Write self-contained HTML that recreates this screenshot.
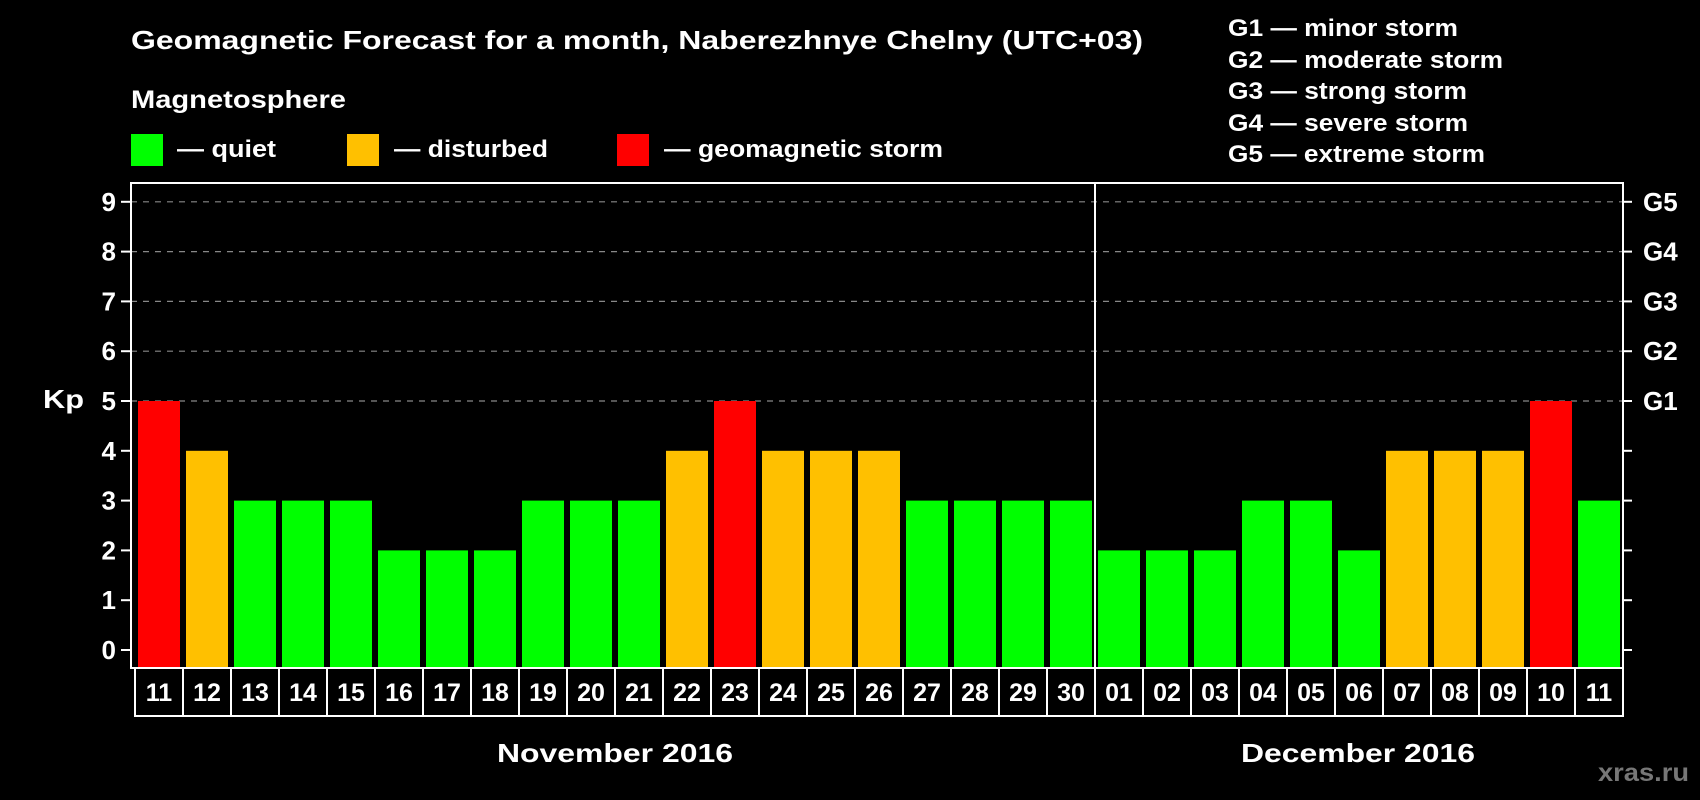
<!DOCTYPE html>
<html><head><meta charset="utf-8"><style>
html,body{margin:0;padding:0;background:#000;}
svg{display:block;font-family:"Liberation Sans",Arial,sans-serif;font-weight:bold;}
</style></head><body>
<svg id="chart" width="1700" height="800" viewBox="0 0 1700 800">
<rect x="0" y="0" width="1700" height="800" fill="#000"/>
<text x="131" y="49" fill="#fff" font-size="26" textLength="1012" lengthAdjust="spacingAndGlyphs">Geomagnetic Forecast for a month, Naberezhnye Chelny (UTC+03)</text>
<text x="131" y="108" fill="#fff" font-size="25" textLength="215" lengthAdjust="spacingAndGlyphs">Magnetosphere</text>
<g><rect x="131" y="134" width="32" height="32" fill="#00ff00"/><text x="177" y="157" fill="#fff" font-size="24" textLength="99" lengthAdjust="spacingAndGlyphs">— quiet</text></g>
<g><rect x="347" y="134" width="32" height="32" fill="#ffc000"/><text x="394" y="157" fill="#fff" font-size="24" textLength="154" lengthAdjust="spacingAndGlyphs">— disturbed</text></g>
<g><rect x="617" y="134" width="32" height="32" fill="#ff0000"/><text x="664" y="157" fill="#fff" font-size="24" textLength="279" lengthAdjust="spacingAndGlyphs">— geomagnetic storm</text></g>
<g fill="#fff" font-size="24">
<text x="1228" y="36" textLength="230" lengthAdjust="spacingAndGlyphs">G1 — minor storm</text>
<text x="1228" y="68" textLength="275" lengthAdjust="spacingAndGlyphs">G2 — moderate storm</text>
<text x="1228" y="99" textLength="239" lengthAdjust="spacingAndGlyphs">G3 — strong storm</text>
<text x="1228" y="131" textLength="240" lengthAdjust="spacingAndGlyphs">G4 — severe storm</text>
<text x="1228" y="162" textLength="257" lengthAdjust="spacingAndGlyphs">G5 — extreme storm</text>
</g>
<text x="43" y="408" fill="#fff" font-size="26" textLength="41" lengthAdjust="spacingAndGlyphs">Kp</text>
<g id="grid"></g><g id="bars"></g><g id="axes"></g>
<text x="615" y="762" fill="#fff" font-size="26" text-anchor="middle" textLength="236" lengthAdjust="spacingAndGlyphs">November 2016</text>
<text x="1358" y="762" fill="#fff" font-size="26" text-anchor="middle" textLength="234" lengthAdjust="spacingAndGlyphs">December 2016</text>
<text x="1689" y="781" fill="#777" font-size="25" text-anchor="end" textLength="91" lengthAdjust="spacingAndGlyphs">xras.ru</text>
</svg>
<script>
const days = ["11","12","13","14","15","16","17","18","19","20","21","22","23","24","25","26","27","28","29","30","01","02","03","04","05","06","07","08","09","10","11"];
const kpValues = [5,4,3,3,3,2,2,2,3,3,3,4,5,4,4,4,3,3,3,3,2,2,2,3,3,2,4,4,4,5,3];
const yTicks = [0,1,2,3,4,5,6,7,8,9];
const gLabels = ["G1","G2","G3","G4","G5"];
const NS="http://www.w3.org/2000/svg";
const plotLeft=131,plotRight=1623,plotTop=183,plotBottom=668,y0=650,unit=49.8,bx0=138,pitch=48,bw=42;
function yScale(v){return y0-v*unit;}
function xScale(i){return bx0+i*pitch;}
function mk(tag,attrs,parent){const e=document.createElementNS(NS,tag);for(const k in attrs)e.setAttribute(k,attrs[k]);parent.appendChild(e);return e;}
const gridG=document.getElementById('grid'),barsG=document.getElementById('bars'),axesG=document.getElementById('axes');
function color(v){return v>=5?"#ff0000":(v>=4?"#ffc000":"#00ff00");}
yTicks.forEach(v=>{
  if(v>=5){const l=mk('line',{x1:plotLeft,x2:plotRight,y1:yScale(v),y2:yScale(v),stroke:'#888','stroke-width':1.2,'stroke-dasharray':'6,6'},gridG);
  
  }
});
kpValues.forEach((v,i)=>{
  const r=mk('rect',{x:xScale(i),y:yScale(v),width:bw,height:plotBottom-yScale(v),fill:color(v)},barsG);
  
  
});
const frame=mk('rect',{x:plotLeft,y:plotTop,width:plotRight-plotLeft,height:plotBottom-plotTop,fill:'none',stroke:'#fff','stroke-width':2},axesG);


const divX=xScale(20)-3;
const div=mk('line',{x1:divX,x2:divX,y1:plotTop,y2:plotBottom,stroke:'#fff','stroke-width':2},axesG);


yTicks.forEach(v=>{
  const y=yScale(v);
  mk('line',{x1:plotLeft-10,x2:plotLeft,y1:y,y2:y,stroke:'#fff','stroke-width':2},axesG);
  mk('line',{x1:plotRight,x2:plotRight+9,y1:y,y2:y,stroke:'#fff','stroke-width':2},axesG);
  const t=mk('text',{x:116,y:y+9,fill:'#fff','font-size':26,'text-anchor':'end'},axesG);
  t.textContent=v;
  
  
});
gLabels.forEach((g,i)=>{
  const t=mk('text',{x:1643,y:yScale(5+i)+9,fill:'#fff','font-size':26},axesG);
  t.textContent=g;
  
  
});
days.forEach((d,i)=>{
  const x=xScale(i)-3;
  const b=mk('rect',{x:x,y:plotBottom,width:pitch,height:48,fill:'none',stroke:'#fff','stroke-width':2},axesG);
  
  
  const t=mk('text',{x:x+pitch/2,y:plotBottom+33,fill:'#fff','font-size':25,'text-anchor':'middle'},axesG);
  t.textContent=d;
  
  
});
</script>
</body></html>
